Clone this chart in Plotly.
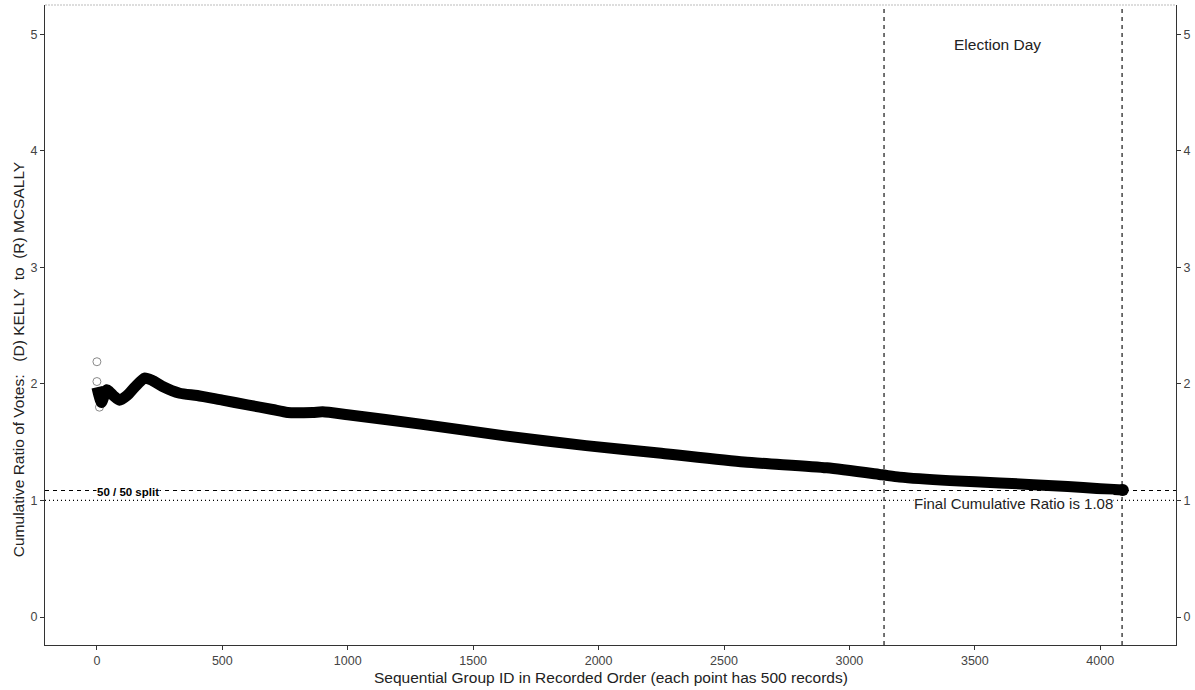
import plotly.graph_objects as go

# Data
group_id = [0, 8, 18, 40, 65, 90, 120, 150, 190, 220, 260, 330, 400, 500, 600, 700,
            760, 860, 900, 1000, 1290, 1620, 1950, 2250, 2580, 2910, 3130, 3200,
            3400, 3600, 3870, 4000, 4090]
cum_ratio = [1.97, 1.90, 1.84, 1.95, 1.90, 1.86, 1.90, 1.97, 2.05, 2.03, 1.98, 1.92,
             1.90, 1.86, 1.82, 1.78, 1.755, 1.755, 1.76, 1.735, 1.655, 1.556, 1.47,
             1.405, 1.33, 1.28, 1.22, 1.20, 1.17, 1.15, 1.12, 1.10, 1.09]
early_x = [0, 0, 10]
early_y = [2.19, 2.02, 1.80]

x_ticks = [0, 500, 1000, 1500, 2000, 2500, 3000, 3500, 4000]
y_ticks = [0, 1, 2, 3, 4, 5]

election_start = 3138
final_group = 4087
final_ratio = 1.085
even_split = 1.0

FONT = "Liberation Sans, Arial, sans-serif"

fig = go.Figure()
fig.add_trace(go.Scatter(x=early_x, y=early_y, mode="markers",
                         marker=dict(symbol="circle-open", size=8,
                                     color="#8a8a8a", line=dict(width=1)),
                         showlegend=False, hoverinfo="skip"))
fig.add_trace(go.Scatter(x=group_id, y=cum_ratio, mode="lines",
                         line=dict(color="black", width=11, shape="spline",
                                   smoothing=0.6),
                         showlegend=False))
fig.add_trace(go.Scatter(x=[group_id[-1]], y=[cum_ratio[-1]], mode="markers",
                         marker=dict(color="black", size=12),
                         showlegend=False, yaxis="y2"))

# reference lines
for xv in (election_start, final_group):
    fig.add_shape(type="line", xref="x", yref="paper", x0=xv, x1=xv, y0=0, y1=1,
                  line=dict(color="black", width=1.1, dash="4px,4px"))
fig.add_shape(type="line", xref="paper", yref="y", x0=0, x1=1, y0=final_ratio,
              y1=final_ratio, line=dict(color="black", width=1.1, dash="4px,4px"))
fig.add_shape(type="line", xref="paper", yref="y", x0=0, x1=1, y0=even_split,
              y1=even_split, line=dict(color="black", width=1.2, dash="1px,3px"))

# frame: top light line
fig.add_shape(type="line", xref="paper", yref="paper", x0=0, x1=1, y0=1, y1=1,
              line=dict(color="#bbbbbb", width=1, dash="2px,1px"))

fig.add_annotation(x=124, y=1.075, text="<b>50 / 50 split</b>", showarrow=False,
                   font=dict(family=FONT, size=11.5, color="black"), bgcolor="white",
                   borderpad=0)
fig.add_annotation(x=3656, y=0.972, text="Final Cumulative Ratio is 1.08",
                   showarrow=False, font=dict(family=FONT, size=15, color="#222"),
                   bgcolor="white", borderpad=0)
fig.add_annotation(x=3589, y=4.91, text="Election Day", showarrow=False,
                   font=dict(family=FONT, size=15.5, color="#222"))

fig.add_annotation(xref="paper", yref="paper", x=0, y=0.445, xanchor="center",
                   yanchor="middle",
                   text="Cumulative Ratio of Votes:   (D) KELLY  to  (R) MCSALLY",
                   textangle=-90, showarrow=False, xshift=-27,
                   font=dict(family=FONT, size=15.5, color="#222"))
fig.add_annotation(xref="paper", yref="paper", x=0.5, y=0, yshift=-32,
                   xanchor="center", yanchor="middle",
                   text="Sequential Group ID in Recorded Order (each point has 500 records)",
                   showarrow=False, font=dict(family=FONT, size=15.5, color="#222"))

axis_common = dict(showgrid=False, zeroline=False, ticks="outside", ticklen=4,
                   tickwidth=1, tickcolor="#333", linecolor="#333", linewidth=1,
                   automargin=False,
                   tickfont=dict(family=FONT, size=12.5, color="#444"))

fig.update_layout(
    width=1195, height=690,
    margin=dict(l=45, r=19, t=5, b=45),
    paper_bgcolor="white", plot_bgcolor="white",
    xaxis=dict(range=[-207, 4302], tickvals=x_ticks, showline=True, **axis_common),
    yaxis=dict(range=[-0.24, 5.25], tickvals=y_ticks, showline=True, **axis_common),
    yaxis2=dict(range=[-0.24, 5.25], tickvals=y_ticks, overlaying="y", side="right",
                showline=True, **axis_common),
    showlegend=False,
)

fig.write_html("out.html", config={"displayModeBar": False},
               post_script="document.body.style.margin='0';document.body.style.overflow='hidden';")
